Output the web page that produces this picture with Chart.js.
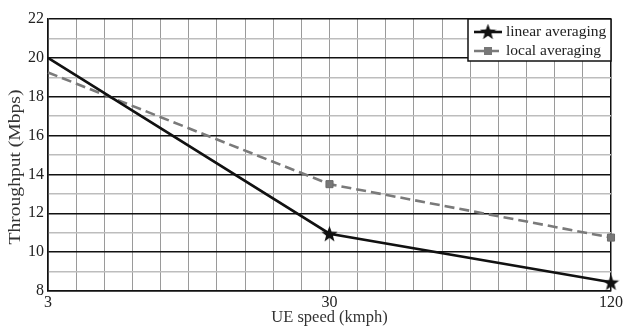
<!DOCTYPE html>
<html><head><meta charset="utf-8">
<script src="https://cdn.jsdelivr.net/npm/chart.js@4/dist/chart.umd.min.js"></script>
<style>html,body{margin:0;padding:0;background:#fff}#wrap{width:625px;height:327px}</style>
</head><body><div id="wrap"><canvas id="c" width="625" height="327"></canvas></div>
<script>
const speedLabels = ['3', '30', '120'];
const linearAveraging = [20, 10.95, 8.45];
const localAveraging = [19.25, 13.5, 10.75];
const seriesNames = ['linear averaging', 'local averaging'];
const xTitle = 'UE speed (kmph)';
const yTitle = 'Throughput (Mbps)';

function starImage(size, color) {
  const c = document.createElement('canvas');
  c.width = size; c.height = size;
  const g = c.getContext('2d');
  const cx = size / 2, cy = size / 2 + 0.8, R = size / 2, r = R * 0.42;
  g.beginPath();
  for (let i = 0; i < 10; i++) {
    const a = -Math.PI / 2 + i * Math.PI / 5;
    const rr = i % 2 === 0 ? R : r;
    const px = cx + rr * Math.cos(a), py = cy + rr * Math.sin(a);
    if (i === 0) g.moveTo(px, py); else g.lineTo(px, py);
  }
  g.closePath();
  g.fillStyle = color; g.fill();
  return c;
}
const star = starImage(17, '#111');

const FONT = "'Liberation Serif', 'Times New Roman', serif";

const decorPlugin = {
  id: 'decor',
  afterDraw(chart) {
    const ctx = chart.ctx, a = chart.chartArea;
    ctx.save();
    // axis titles
    ctx.fillStyle = '#333';
    ctx.textAlign = 'center'; ctx.textBaseline = 'middle';
    ctx.font = '16.5px ' + FONT;
    ctx.fillText(xTitle, (a.left + a.right) / 2, 318);
    ctx.save();
    ctx.translate(16, (a.top + a.bottom) / 2 + 12);
    ctx.rotate(-Math.PI / 2);
    ctx.font = '16.5px ' + FONT;
    const w = ctx.measureText(yTitle).width;
    const target = 155;
    ctx.scale(target / w, 1);
    ctx.fillText(yTitle, 0, 0);
    ctx.restore();

    // legend box
    const bw = 143, bh = 42;
    const x0 = a.right - bw, y0 = a.top;
    ctx.fillStyle = '#fff';
    ctx.fillRect(x0, y0, bw, bh);
    ctx.strokeStyle = '#111'; ctx.lineWidth = 1.5;
    ctx.strokeRect(x0, y0, bw, bh);
    ctx.font = '15.5px ' + FONT;
    ctx.textAlign = 'left';
    const rows = [y0 + 13, y0 + 32];
    chart.data.datasets.forEach((ds, i) => {
      const yy = rows[i];
      ctx.strokeStyle = ds.borderColor; ctx.lineWidth = ds.borderWidth;
      ctx.setLineDash(ds.borderDash || []);
      ctx.beginPath(); ctx.moveTo(x0 + 6, yy); ctx.lineTo(x0 + 34, yy); ctx.stroke();
      ctx.setLineDash([]);
      if (i === 0) {
        ctx.drawImage(star, x0 + 20 - 8.5, yy - 9);
      } else {
        ctx.fillStyle = '#777'; ctx.fillRect(x0 + 16, yy - 4, 8, 8);
      }
      ctx.fillStyle = '#222';
      ctx.fillText(ds.label, x0 + 38, yy);
    });
    ctx.restore();
  }
};

new Chart(document.getElementById('c'), {
  type: 'line',
  data: {
    datasets: [
      {
        label: seriesNames[0],
        data: linearAveraging.map((v, i) => ({ x: i, y: v })),
        borderColor: '#111', borderWidth: 2.6,
        pointStyle: star, pointRadius: [0, 8, 8], pointHoverRadius: 0,
        tension: 0, clip: false
      },
      {
        label: seriesNames[1],
        data: localAveraging.map((v, i) => ({ x: i, y: v })),
        borderColor: '#7a7a7a', borderWidth: 2.6, borderDash: [10, 5],
        pointStyle: 'rect', pointRadius: [0, 5, 5], pointHoverRadius: 0,
        pointBackgroundColor: '#777', pointBorderColor: '#6a6a6a', pointBorderWidth: 1,
        tension: 0, clip: false
      }
    ]
  },
  options: {
    responsive: false, animation: false,
    layout: { padding: { left: 0, right: 13, top: 19, bottom: 0 } },
    plugins: { legend: { display: false }, tooltip: { enabled: false } },
    scales: {
      x: {
        type: 'linear', min: 0, max: speedLabels.length - 1,
        afterFit: (s) => { s.height = 36; },
        ticks: {
          stepSize: 0.1, autoSkip: false, maxRotation: 0, padding: 2,
          font: { family: FONT, size: 16 }, color: '#222',
          callback: (v) => Math.abs(v - Math.round(v)) < 1e-6 ? speedLabels[Math.round(v)] : ''
        },
        grid: {
          color: (c) => {
            const v = c.tick ? c.tick.value : 0;
            return (Math.abs(v) < 1e-6 || Math.abs(v - 2) < 1e-6) ? '#111' : '#9a9a9a';
          },
          lineWidth: (c) => {
            const v = c.tick ? c.tick.value : 0;
            return (Math.abs(v) < 1e-6 || Math.abs(v - 2) < 1e-6) ? 1.5 : 1;
          },
          drawTicks: false
        },
        border: { color: '#111', width: 1.5 }
      },
      y: {
        min: 8, max: 22,
        afterFit: (s) => { s.width = 48; },
        ticks: {
          stepSize: 1, autoSkip: false, padding: 4,
          font: { family: FONT, size: 16 }, color: '#222',
          callback: (v) => v % 2 === 0 ? String(v) : ''
        },
        grid: {
          color: (c) => (c.tick && c.tick.value % 2 === 0) ? '#111' : '#bdbdbd',
          lineWidth: 1.5,
          drawTicks: false
        },
        border: { color: '#111', width: 1.5 }
      }
    }
  },
  plugins: [decorPlugin]
});
</script></body></html>
